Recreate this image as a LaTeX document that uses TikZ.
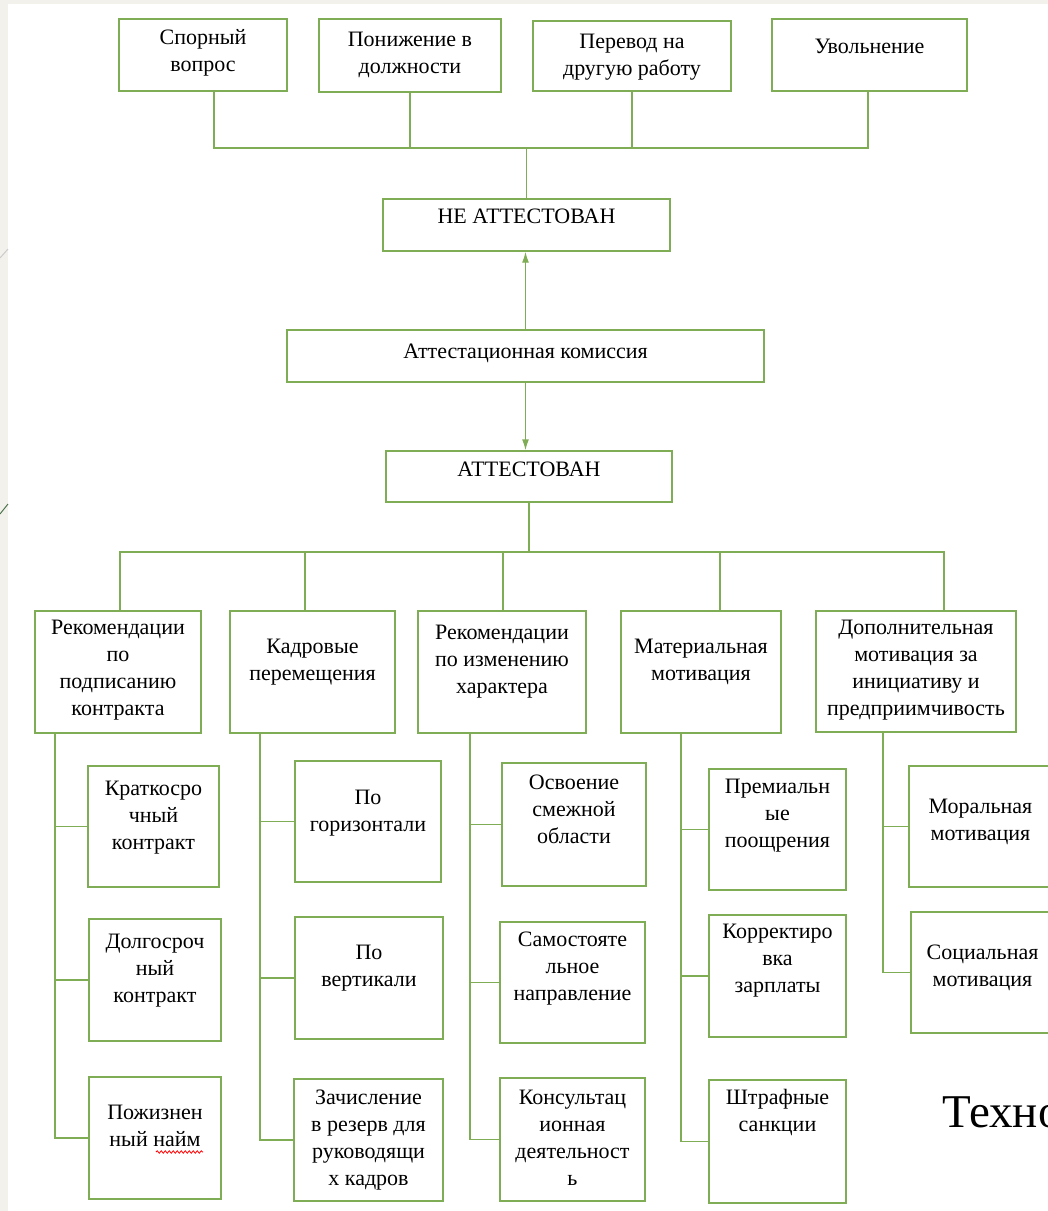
\documentclass[tikz,border=0pt]{standalone}
\usepackage{fontspec}
\setmainfont{Liberation Serif}
\usepackage{tikz}
\usetikzlibrary{calc}
\usetikzlibrary{arrows.meta}
\usetikzlibrary{decorations.pathmorphing}

\definecolor{lineGreen}{HTML}{7FAD55}
\definecolor{slideGrey}{HTML}{F2F1EC}

\tikzset{
	box/.style={draw=lineGreen, line width=1.4pt, fill=white, inner sep=0pt},
	boxtext/.style={anchor=north, inner sep=0pt, align=center, font=\fontsize{22}{27}\selectfont},
	link/.style={draw=lineGreen, line width=1.4pt},
	spell/.style={red, line width=0.8pt, decorate, decoration={snake, segment length=4pt, amplitude=1.2pt}}
}

\begin{document}
\begin{tikzpicture}[x=1pt, y=-1pt]
\useasboundingbox (0,0) rectangle (1048,1211);
\begin{scope}
\clip (0,0) rectangle (1048,1211);
\fill[white] (0,0) rectangle (1048,1211);
\fill[slideGrey] (0,0) rectangle (8,1211);
\fill[slideGrey] (0,0) rectangle (1048,4);
\draw[gray!40, line width=1pt] (0,258) -- (8,249);
\draw[black!60!green!40!gray, line width=1pt] (0,514) -- (8,504);

% box: x1, y1, x2, y2, name, first line, text
\newcommand\drawBox[7]{
	\node[box, minimum width={(#3-#1)*1pt}, minimum height={(#4-#2)*1pt}] (#5) at ({(#1+#3)/2},{(#2+#4)/2}) {};
	\node[boxtext] (#5t) at ({(#1+#3)/2},{#6-13}) {\strut #7};
}

\drawBox{119}{19}{287}{91}{t1}{38}{Спорный\\вопрос}
\drawBox{319}{19}{501}{92}{t2}{40}{Понижение в\\должности}
\drawBox{533}{21}{731}{91}{t3}{42}{Перевод на\\другую работу}
\drawBox{772}{19}{967}{91}{t4}{47}{Увольнение}

\drawBox{383}{199}{670}{251}{ne}{217}{НЕ АТТЕСТОВАН}
\drawBox{287}{330}{764}{382}{kom}{352}{Аттестационная комиссия}
\drawBox{386}{451}{672}{502}{att}{470}{АТТЕСТОВАН}

\drawBox{35}{611}{201}{733}{r1}{628}{Рекомендации\\по\\подписанию\\контракта}
\drawBox{230}{611}{395}{733}{r2}{647}{Кадровые\\перемещения}
\drawBox{418}{611}{586}{733}{r3}{633}{Рекомендации\\по изменению\\характера}
\drawBox{621}{611}{781}{733}{r4}{647}{Материальная\\мотивация}
\drawBox{816}{611}{1016}{732}{r5}{628}{Дополнительная\\мотивация за\\инициативу и\\предприимчивость}

\drawBox{88}{766}{219}{887}{c11}{789}{Краткосро\\чный\\контракт}
\drawBox{89}{919}{221}{1041}{c12}{942}{Долгосроч\\ный\\контракт}
\drawBox{89}{1077}{221}{1199}{c13}{1113}{Пожизнен\\ный найм}

\drawBox{295}{761}{441}{882}{c21}{798}{По\\горизонтали}
\drawBox{295}{917}{443}{1039}{c22}{953}{По\\вертикали}
\drawBox{294}{1079}{443}{1201}{c23}{1098}{Зачисление\\в резерв для\\руководящи\\х кадров}

\drawBox{502}{763}{646}{886}{c31}{783}{Освоение\\смежной\\области}
\drawBox{500}{922}{645}{1043}{c32}{940}{Самостояте\\льное\\направление}
\drawBox{500}{1078}{645}{1201}{c33}{1098}{Консультац\\ионная\\деятельност\\ь}

\drawBox{709}{769}{846}{890}{c41}{787}{Премиальн\\ые\\поощрения}
\drawBox{709}{915}{846}{1037}{c42}{932}{Корректиро\\вка\\зарплаты}
\drawBox{709}{1080}{846}{1203}{c43}{1098}{Штрафные\\санкции}

\drawBox{909}{766}{1052}{887}{c51}{807}{Моральная\\мотивация}
\drawBox{911}{912}{1054}{1033}{c52}{953}{Социальная\\мотивация}

\draw[spell] (156,1152) -- (203,1152);

\node[anchor=base west, inner sep=0pt, font=\fontsize{47}{56}\selectfont] (techno) at (942,1127) {Техно};

% upper tree
\coordinate (b1) at (214,148);
\coordinate (b4) at (868,148);
\draw[link] (t1.south -| b1) -- (b1) -- (b4) -- (t4.south -| b4);
\draw[link] (t2.south) -- (t2.south |- b1);
\draw[link] (t3.south) -- (t3.south |- b1);
\draw[link] (ne.north) -- (ne.north |- b1);

\draw[link, -{Latex[length=11pt,width=7pt]}] (kom.north) -- (kom.north |- ne.south);
\draw[link, -{Latex[length=11pt,width=7pt]}] (kom.south) -- (kom.south |- att.north);

% lower tree
\coordinate (a1) at (120,552);
\coordinate (a2) at (305,552);
\coordinate (a3) at (503,552);
\coordinate (a4) at (720,552);
\coordinate (a5) at (944,552);
\draw[link] (att.south) -- (att.south |- a1);
\draw[link] (r1.north -| a1) -- (a1) -- (a5) -- (r5.north -| a5);
\draw[link] (r2.north -| a2) -- (a2);
\draw[link] (r3.north -| a3) -- (a3);
\draw[link] (r4.north -| a4) -- (a4);

\coordinate (s1) at (55,733);
\coordinate (s2) at (260,733);
\coordinate (s3) at (470,733);
\coordinate (s4) at (681,733);
\coordinate (s5) at (883,733);

\draw[link] (r1.south -| s1) |- (c13.west);
\draw[link] (c11.west) -- (c11.west -| s1);
\draw[link] (c12.west) -- (c12.west -| s1);

\draw[link] (r2.south -| s2) |- (c23.west);
\draw[link] (c21.west) -- (c21.west -| s2);
\draw[link] (c22.west) -- (c22.west -| s2);

\draw[link] (r3.south -| s3) |- (c33.west);
\draw[link] (c31.west) -- (c31.west -| s3);
\draw[link] (c32.west) -- (c32.west -| s3);

\draw[link] (r4.south -| s4) |- (c43.west);
\draw[link] (c41.west) -- (c41.west -| s4);
\draw[link] (c42.west) -- (c42.west -| s4);

\draw[link] (r5.south -| s5) |- (c52.west);
\draw[link] (c51.west) -- (c51.west -| s5);
\end{scope}
\end{tikzpicture}
\end{document}
